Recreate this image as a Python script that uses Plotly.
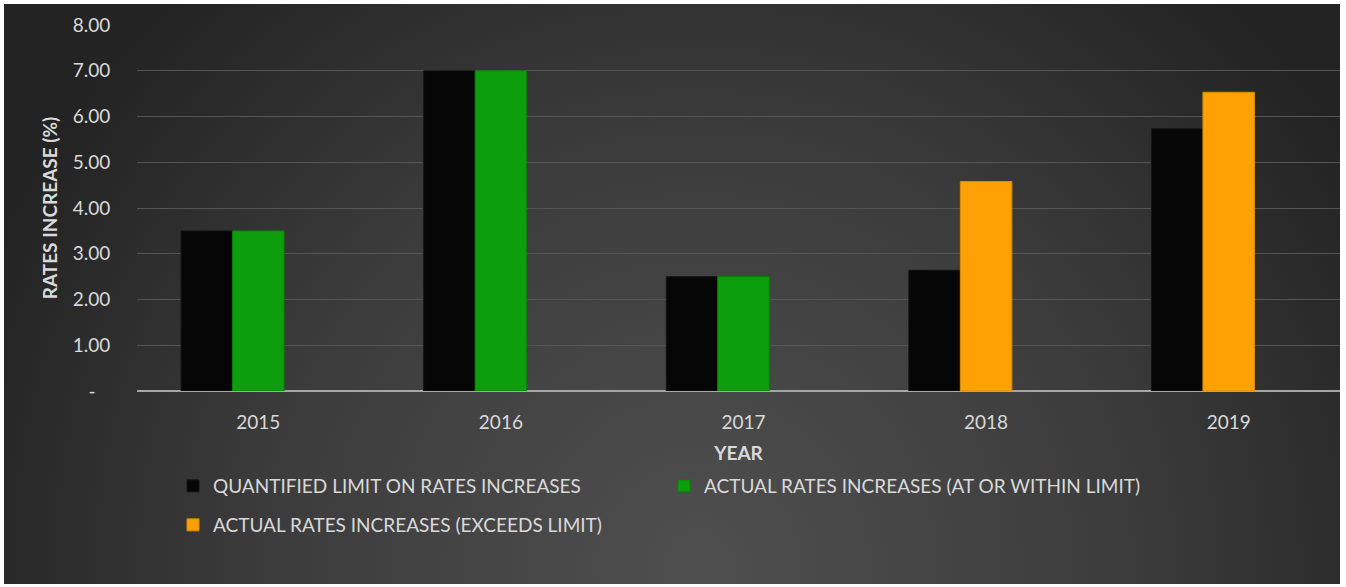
import base64
import plotly.graph_objects as go

# ---------------- data ----------------
years = ["2015", "2016", "2017", "2018", "2019"]
limit_vals = [3.50, 7.00, 2.50, 2.64, 5.73]
within_vals = [3.50, 7.00, 2.50, None, None]
exceeds_vals = [None, None, None, 4.58, 6.53]
y_tickvals = [0, 1, 2, 3, 4, 5, 6, 7, 8]
y_ticktext = ["-\u00a0\u00a0\u00a0", "1.00", "2.00", "3.00", "4.00", "5.00", "6.00", "7.00", "8.00"]

names = [
    "QUANTIFIED LIMIT ON RATES INCREASES",
    "ACTUAL RATES INCREASES (AT OR WITHIN LIMIT)",
    "ACTUAL RATES INCREASES (EXCEEDS LIMIT)",
]

# ---------------- layout geometry ----------------
W, H = 1346, 587
ML, MR, MT, MB = 137, 6, 25, 196
PW = W - ML - MR
PH = H - MT - MB
cat_px = 242.6
x_range = [-0.5, -0.5 + PW / cat_px]
bw = 51.5 / cat_px

FONT = "Lato"
TXT = "#d9d9d9"
FS = 19

# background radial gradient (as svg image)
bx0, by0, bx1, by1 = 4, 4, 1340, 584
bgw, bgh = bx1 - bx0, by1 - by0
svg = f'''<svg xmlns="http://www.w3.org/2000/svg" width="{bgw}" height="{bgh}" viewBox="0 0 {bgw} {bgh}" preserveAspectRatio="none">
<defs><radialGradient id="g" gradientUnits="userSpaceOnUse" cx="{bgw*0.52}" cy="{bgh*0.97}" r="{bgw*0.58}">
<stop offset="0" stop-color="#4f4f4f"/><stop offset="0.55" stop-color="#3c3c3c"/><stop offset="1" stop-color="#232323"/></radialGradient></defs>
<rect width="{bgw}" height="{bgh}" fill="url(#g)"/></svg>'''
src = "data:image/svg+xml;base64," + base64.b64encode(svg.encode()).decode()

fig = go.Figure()
fig.add_trace(go.Bar(
    x=years, y=limit_vals, name=names[0], width=bw, offset=-1.5 * bw,
    marker=dict(color="#060606", line=dict(color="#161616", width=1)),
    legend="legend",
))
fig.add_trace(go.Bar(
    x=years, y=within_vals, name=names[1], width=bw, offset=-0.5 * bw,
    marker=dict(color="#0c9e0c", line=dict(color="#0a800a", width=1)),
    legend="legend",
))
fig.add_trace(go.Bar(
    x=years, y=exceeds_vals, name=names[2], width=bw, offset=-0.5 * bw,
    marker=dict(color="#ffa005", line=dict(color="#dd8a00", width=1)),
    legend="legend2",
))

def px_to_paper_x(px):
    return (px - ML) / PW

def px_to_paper_y(py):
    return (H - MB - py) / PH

fig.update_layout(
    width=W, height=H,
    margin=dict(l=ML, r=MR, t=MT, b=MB, pad=0),
    paper_bgcolor="white",
    plot_bgcolor="rgba(0,0,0,0)",
    barmode="overlay",
    font=dict(family=FONT, color=TXT, size=FS),
    images=[dict(
        source=src, xref="paper", yref="paper",
        x=px_to_paper_x(bx0), y=px_to_paper_y(by0),
        sizex=px_to_paper_x(bx1) - px_to_paper_x(bx0),
        sizey=px_to_paper_y(by0) - px_to_paper_y(by1),
        xanchor="left", yanchor="top", sizing="stretch", layer="below",
    )],
    xaxis=dict(
        type="category", range=x_range, showgrid=False, zeroline=False,
        ticks="outside", ticklen=14, tickcolor="rgba(0,0,0,0)",
        tickfont=dict(size=FS, color=TXT),
        title=dict(text="<b>YEAR</b>", font=dict(size=FS, color=TXT), standoff=14),
        fixedrange=True,
    ),
    yaxis=dict(
        range=[0, 8], tickvals=y_tickvals, ticktext=y_ticktext,
        showgrid=True, gridcolor="#555555", gridwidth=1,
        zeroline=True, zerolinecolor="#a6a6a6", zerolinewidth=2,
        ticks="outside", ticklen=22, tickcolor="rgba(0,0,0,0)",
        tickfont=dict(size=FS, color=TXT),
        title=dict(text="<b>RATES INCREASE (%)</b>", font=dict(size=FS, color=TXT), standoff=10),
        fixedrange=True,
    ),
    legend=dict(
        orientation="h", x=px_to_paper_x(173), y=px_to_paper_y(486),
        xanchor="left", yanchor="middle", bgcolor="rgba(0,0,0,0)",
        entrywidth=446, entrywidthmode="pixels",
        font=dict(size=FS, color=TXT), itemclick=False, itemdoubleclick=False,
    ),
    legend2=dict(
        orientation="h", x=px_to_paper_x(173), y=px_to_paper_y(525),
        xanchor="left", yanchor="middle", bgcolor="rgba(0,0,0,0)",
        font=dict(size=FS, color=TXT), itemclick=False, itemdoubleclick=False,
    ),
    showlegend=True,
)

fig.write_html("out.html", config={"displayModeBar": False},
               post_script="document.body.style.margin='0';document.body.style.overflow='hidden';")
